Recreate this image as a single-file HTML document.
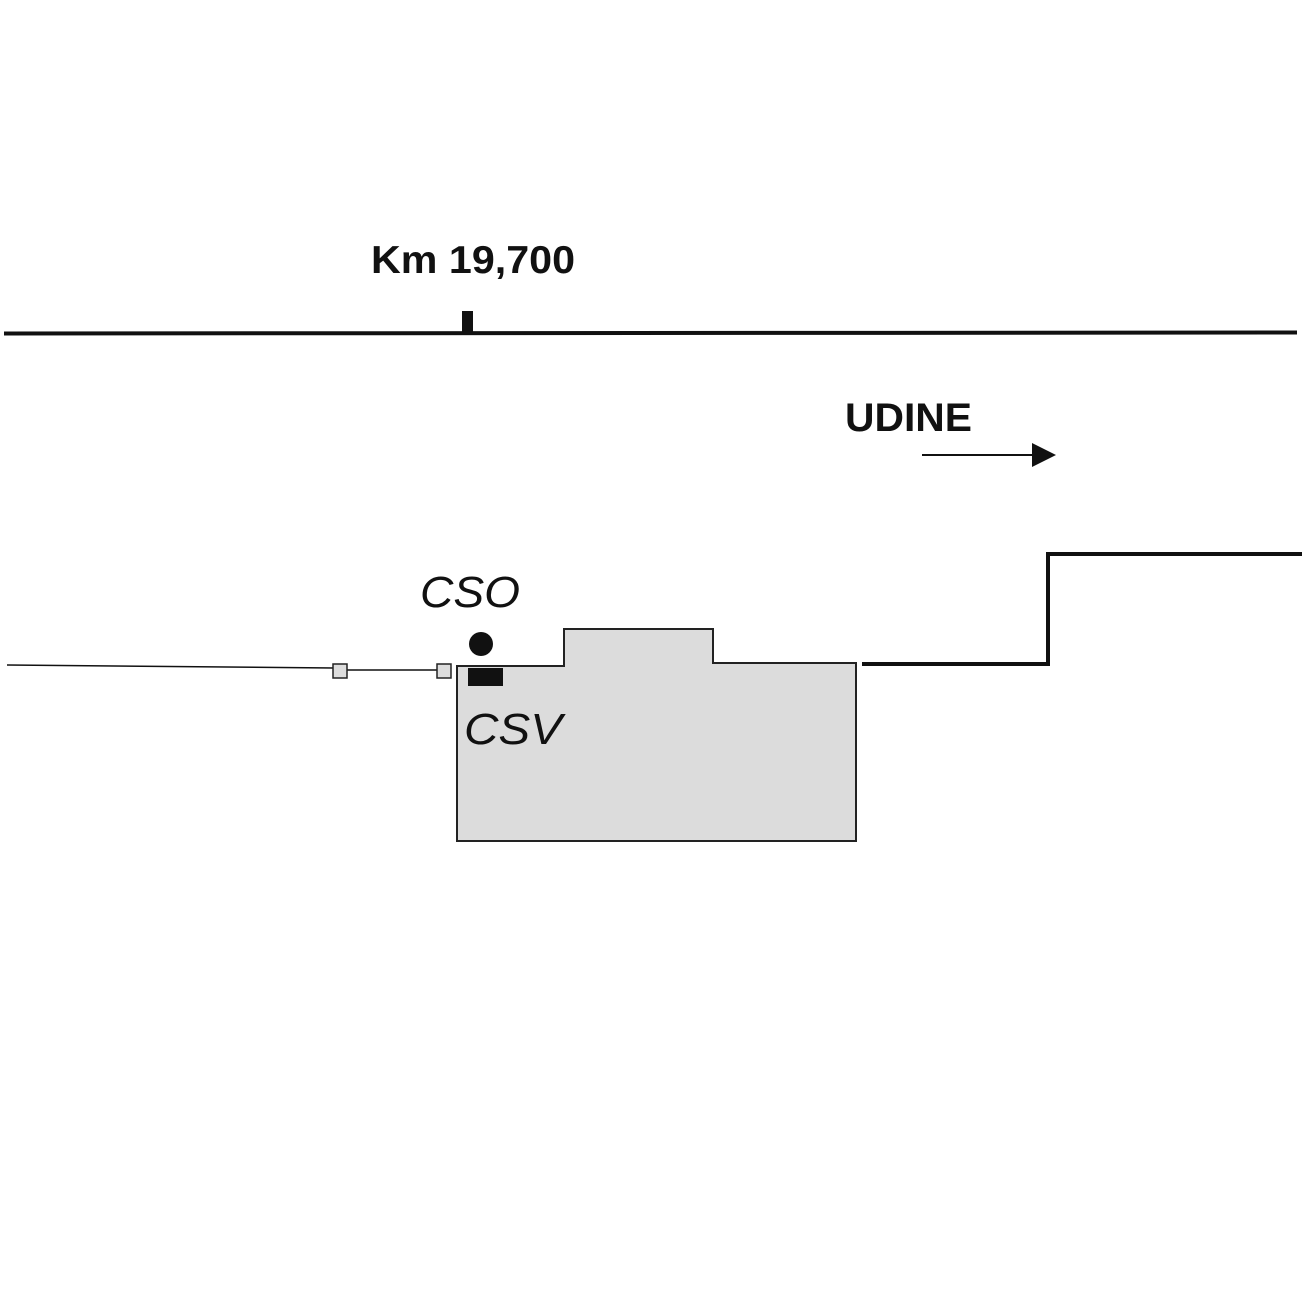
<!DOCTYPE html>
<html><head><style>html,body{margin:0;padding:0;background:#fff}svg{display:block}</style></head>
<body>
<svg width="1302" height="1299" viewBox="0 0 1302 1299" xmlns="http://www.w3.org/2000/svg">
<rect width="1302" height="1299" fill="#fff"/>
<text x="371" y="273" font-family="Liberation Sans, sans-serif" font-weight="bold" font-size="39" textLength="204" lengthAdjust="spacingAndGlyphs" fill="#111">Km 19,700</text>
<line x1="4" y1="333.5" x2="1297" y2="332.5" stroke="#111" stroke-width="4"/>
<rect x="462" y="311" width="11" height="22" fill="#111"/>
<text x="845" y="431" font-family="Liberation Sans, sans-serif" font-weight="bold" font-size="40" textLength="127" lengthAdjust="spacingAndGlyphs" fill="#111">UDINE</text>
<line x1="922" y1="455" x2="1034" y2="455" stroke="#111" stroke-width="2"/>
<polygon points="1032,443 1056,455 1032,467" fill="#111"/>
<line x1="7" y1="665" x2="334" y2="668" stroke="#111" stroke-width="1.5"/>
<line x1="346" y1="670" x2="437" y2="670" stroke="#111" stroke-width="1.5"/>
<rect x="333" y="664" width="14" height="14" fill="#ddd" stroke="#222" stroke-width="1.5"/>
<rect x="437" y="664" width="14" height="14" fill="#ddd" stroke="#222" stroke-width="1.5"/>
<polygon points="457,666 564,666 564,629 713,629 713,663 856,663 856,841 457,841" fill="#dcdcdc" stroke="#222" stroke-width="2"/>
<circle cx="481" cy="644" r="12" fill="#111"/>
<rect x="468" y="668" width="35" height="18" fill="#111"/>
<text x="420" y="607" font-family="Liberation Sans, sans-serif" font-style="italic" font-size="44" textLength="100" lengthAdjust="spacingAndGlyphs" fill="#111">CSO</text>
<text x="464" y="744" font-family="Liberation Sans, sans-serif" font-style="italic" font-size="44" textLength="98" lengthAdjust="spacingAndGlyphs" fill="#111">CSV</text>
<polyline points="862,664 1048,664 1048,554 1302,554" fill="none" stroke="#111" stroke-width="4"/>
</svg>
</body></html>
